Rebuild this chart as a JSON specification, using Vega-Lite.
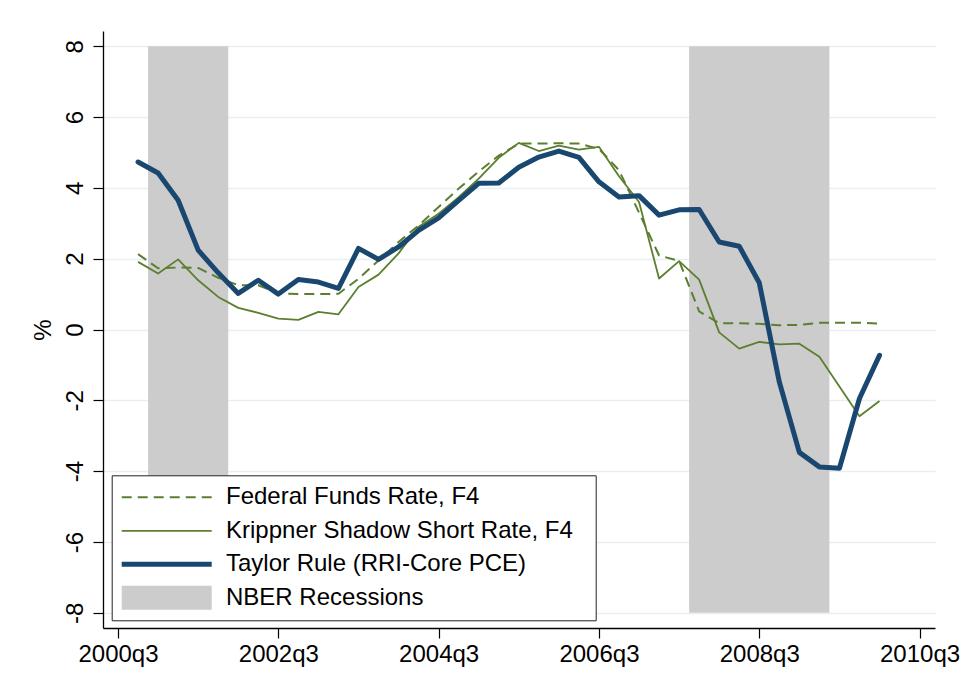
{
  "$schema": "https://vega.github.io/schema/vega-lite/v6.json",
  "width": 832,
  "height": 597,
  "autosize": "none",
  "padding": {"left": 103, "top": 31, "right": 29, "bottom": 68},
  "background": "white",
  "config": {
    "font": "Liberation Sans",
    "view": {"stroke": null},
    "axis": {
      "domainColor": "#000000",
      "domainWidth": 1.3,
      "tickColor": "#000000",
      "tickWidth": 1.2,
      "tickSize": 10,
      "labelColor": "#000000",
      "titleColor": "#000000",
      "labelFont": "Liberation Sans",
      "titleFont": "Liberation Sans",
      "labelFontSize": 24,
      "titleFontSize": 24,
      "titleFontWeight": "normal"
    }
  },
  "datasets": {
    "recessions": [
      {"name": "2001 recession", "start": 163.5, "end": 167.5},
      {"name": "2007-09 recession", "start": 190.5, "end": 197.5}
    ],
    "rates": [
      {"t": 163, "quarter": "2000q4", "series": "Federal Funds Rate, F4", "value": 2.13},
      {"t": 164, "quarter": "2001q1", "series": "Federal Funds Rate, F4", "value": 1.73},
      {"t": 165, "quarter": "2001q2", "series": "Federal Funds Rate, F4", "value": 1.75},
      {"t": 166, "quarter": "2001q3", "series": "Federal Funds Rate, F4", "value": 1.74},
      {"t": 167, "quarter": "2001q4", "series": "Federal Funds Rate, F4", "value": 1.46},
      {"t": 168, "quarter": "2002q1", "series": "Federal Funds Rate, F4", "value": 1.25},
      {"t": 169, "quarter": "2002q2", "series": "Federal Funds Rate, F4", "value": 1.25},
      {"t": 170, "quarter": "2002q3", "series": "Federal Funds Rate, F4", "value": 1.02},
      {"t": 171, "quarter": "2002q4", "series": "Federal Funds Rate, F4", "value": 1.0},
      {"t": 172, "quarter": "2003q1", "series": "Federal Funds Rate, F4", "value": 1.0},
      {"t": 173, "quarter": "2003q2", "series": "Federal Funds Rate, F4", "value": 1.01},
      {"t": 174, "quarter": "2003q3", "series": "Federal Funds Rate, F4", "value": 1.43},
      {"t": 175, "quarter": "2003q4", "series": "Federal Funds Rate, F4", "value": 1.95},
      {"t": 176, "quarter": "2004q1", "series": "Federal Funds Rate, F4", "value": 2.47},
      {"t": 177, "quarter": "2004q2", "series": "Federal Funds Rate, F4", "value": 2.94},
      {"t": 178, "quarter": "2004q3", "series": "Federal Funds Rate, F4", "value": 3.46},
      {"t": 179, "quarter": "2004q4", "series": "Federal Funds Rate, F4", "value": 3.98},
      {"t": 180, "quarter": "2005q1", "series": "Federal Funds Rate, F4", "value": 4.46},
      {"t": 181, "quarter": "2005q2", "series": "Federal Funds Rate, F4", "value": 4.91},
      {"t": 182, "quarter": "2005q3", "series": "Federal Funds Rate, F4", "value": 5.25},
      {"t": 183, "quarter": "2005q4", "series": "Federal Funds Rate, F4", "value": 5.25},
      {"t": 184, "quarter": "2006q1", "series": "Federal Funds Rate, F4", "value": 5.26},
      {"t": 185, "quarter": "2006q2", "series": "Federal Funds Rate, F4", "value": 5.25},
      {"t": 186, "quarter": "2006q3", "series": "Federal Funds Rate, F4", "value": 5.1},
      {"t": 187, "quarter": "2006q4", "series": "Federal Funds Rate, F4", "value": 4.5},
      {"t": 188, "quarter": "2007q1", "series": "Federal Funds Rate, F4", "value": 3.3},
      {"t": 189, "quarter": "2007q2", "series": "Federal Funds Rate, F4", "value": 2.09},
      {"t": 190, "quarter": "2007q3", "series": "Federal Funds Rate, F4", "value": 1.94},
      {"t": 191, "quarter": "2007q4", "series": "Federal Funds Rate, F4", "value": 0.51},
      {"t": 192, "quarter": "2008q1", "series": "Federal Funds Rate, F4", "value": 0.18},
      {"t": 193, "quarter": "2008q2", "series": "Federal Funds Rate, F4", "value": 0.18},
      {"t": 194, "quarter": "2008q3", "series": "Federal Funds Rate, F4", "value": 0.16},
      {"t": 195, "quarter": "2008q4", "series": "Federal Funds Rate, F4", "value": 0.12},
      {"t": 196, "quarter": "2009q1", "series": "Federal Funds Rate, F4", "value": 0.13},
      {"t": 197, "quarter": "2009q2", "series": "Federal Funds Rate, F4", "value": 0.19},
      {"t": 198, "quarter": "2009q3", "series": "Federal Funds Rate, F4", "value": 0.19},
      {"t": 199, "quarter": "2009q4", "series": "Federal Funds Rate, F4", "value": 0.19},
      {"t": 200, "quarter": "2010q1", "series": "Federal Funds Rate, F4", "value": 0.17},

      {"t": 163, "quarter": "2000q4", "series": "Krippner Shadow Short Rate, F4", "value": 1.91},
      {"t": 164, "quarter": "2001q1", "series": "Krippner Shadow Short Rate, F4", "value": 1.58},
      {"t": 165, "quarter": "2001q2", "series": "Krippner Shadow Short Rate, F4", "value": 1.98},
      {"t": 166, "quarter": "2001q3", "series": "Krippner Shadow Short Rate, F4", "value": 1.39},
      {"t": 167, "quarter": "2001q4", "series": "Krippner Shadow Short Rate, F4", "value": 0.92},
      {"t": 168, "quarter": "2002q1", "series": "Krippner Shadow Short Rate, F4", "value": 0.61},
      {"t": 169, "quarter": "2002q2", "series": "Krippner Shadow Short Rate, F4", "value": 0.47},
      {"t": 170, "quarter": "2002q3", "series": "Krippner Shadow Short Rate, F4", "value": 0.31},
      {"t": 171, "quarter": "2002q4", "series": "Krippner Shadow Short Rate, F4", "value": 0.27},
      {"t": 172, "quarter": "2003q1", "series": "Krippner Shadow Short Rate, F4", "value": 0.5},
      {"t": 173, "quarter": "2003q2", "series": "Krippner Shadow Short Rate, F4", "value": 0.43},
      {"t": 174, "quarter": "2003q3", "series": "Krippner Shadow Short Rate, F4", "value": 1.2},
      {"t": 175, "quarter": "2003q4", "series": "Krippner Shadow Short Rate, F4", "value": 1.55},
      {"t": 176, "quarter": "2004q1", "series": "Krippner Shadow Short Rate, F4", "value": 2.15},
      {"t": 177, "quarter": "2004q2", "series": "Krippner Shadow Short Rate, F4", "value": 2.9},
      {"t": 178, "quarter": "2004q3", "series": "Krippner Shadow Short Rate, F4", "value": 3.27},
      {"t": 179, "quarter": "2004q4", "series": "Krippner Shadow Short Rate, F4", "value": 3.74},
      {"t": 180, "quarter": "2005q1", "series": "Krippner Shadow Short Rate, F4", "value": 4.26},
      {"t": 181, "quarter": "2005q2", "series": "Krippner Shadow Short Rate, F4", "value": 4.85},
      {"t": 182, "quarter": "2005q3", "series": "Krippner Shadow Short Rate, F4", "value": 5.27},
      {"t": 183, "quarter": "2005q4", "series": "Krippner Shadow Short Rate, F4", "value": 5.04},
      {"t": 184, "quarter": "2006q1", "series": "Krippner Shadow Short Rate, F4", "value": 5.19},
      {"t": 185, "quarter": "2006q2", "series": "Krippner Shadow Short Rate, F4", "value": 5.08},
      {"t": 186, "quarter": "2006q3", "series": "Krippner Shadow Short Rate, F4", "value": 5.16},
      {"t": 187, "quarter": "2006q4", "series": "Krippner Shadow Short Rate, F4", "value": 4.33},
      {"t": 188, "quarter": "2007q1", "series": "Krippner Shadow Short Rate, F4", "value": 3.6},
      {"t": 189, "quarter": "2007q2", "series": "Krippner Shadow Short Rate, F4", "value": 1.44},
      {"t": 190, "quarter": "2007q3", "series": "Krippner Shadow Short Rate, F4", "value": 1.93},
      {"t": 191, "quarter": "2007q4", "series": "Krippner Shadow Short Rate, F4", "value": 1.41},
      {"t": 192, "quarter": "2008q1", "series": "Krippner Shadow Short Rate, F4", "value": -0.08},
      {"t": 193, "quarter": "2008q2", "series": "Krippner Shadow Short Rate, F4", "value": -0.54},
      {"t": 194, "quarter": "2008q3", "series": "Krippner Shadow Short Rate, F4", "value": -0.35},
      {"t": 195, "quarter": "2008q4", "series": "Krippner Shadow Short Rate, F4", "value": -0.42},
      {"t": 196, "quarter": "2009q1", "series": "Krippner Shadow Short Rate, F4", "value": -0.4},
      {"t": 197, "quarter": "2009q2", "series": "Krippner Shadow Short Rate, F4", "value": -0.77},
      {"t": 198, "quarter": "2009q3", "series": "Krippner Shadow Short Rate, F4", "value": -1.61},
      {"t": 199, "quarter": "2009q4", "series": "Krippner Shadow Short Rate, F4", "value": -2.45},
      {"t": 200, "quarter": "2010q1", "series": "Krippner Shadow Short Rate, F4", "value": -2.02},

      {"t": 163, "quarter": "2000q4", "series": "Taylor Rule (RRI-Core PCE)", "value": 4.73},
      {"t": 164, "quarter": "2001q1", "series": "Taylor Rule (RRI-Core PCE)", "value": 4.42},
      {"t": 165, "quarter": "2001q2", "series": "Taylor Rule (RRI-Core PCE)", "value": 3.65},
      {"t": 166, "quarter": "2001q3", "series": "Taylor Rule (RRI-Core PCE)", "value": 2.24},
      {"t": 167, "quarter": "2001q4", "series": "Taylor Rule (RRI-Core PCE)", "value": 1.6},
      {"t": 168, "quarter": "2002q1", "series": "Taylor Rule (RRI-Core PCE)", "value": 1.02},
      {"t": 169, "quarter": "2002q2", "series": "Taylor Rule (RRI-Core PCE)", "value": 1.39},
      {"t": 170, "quarter": "2002q3", "series": "Taylor Rule (RRI-Core PCE)", "value": 1.0},
      {"t": 171, "quarter": "2002q4", "series": "Taylor Rule (RRI-Core PCE)", "value": 1.41},
      {"t": 172, "quarter": "2003q1", "series": "Taylor Rule (RRI-Core PCE)", "value": 1.34},
      {"t": 173, "quarter": "2003q2", "series": "Taylor Rule (RRI-Core PCE)", "value": 1.16},
      {"t": 174, "quarter": "2003q3", "series": "Taylor Rule (RRI-Core PCE)", "value": 2.29},
      {"t": 175, "quarter": "2003q4", "series": "Taylor Rule (RRI-Core PCE)", "value": 1.98},
      {"t": 176, "quarter": "2004q1", "series": "Taylor Rule (RRI-Core PCE)", "value": 2.33},
      {"t": 177, "quarter": "2004q2", "series": "Taylor Rule (RRI-Core PCE)", "value": 2.8},
      {"t": 178, "quarter": "2004q3", "series": "Taylor Rule (RRI-Core PCE)", "value": 3.15},
      {"t": 179, "quarter": "2004q4", "series": "Taylor Rule (RRI-Core PCE)", "value": 3.65},
      {"t": 180, "quarter": "2005q1", "series": "Taylor Rule (RRI-Core PCE)", "value": 4.13},
      {"t": 181, "quarter": "2005q2", "series": "Taylor Rule (RRI-Core PCE)", "value": 4.14},
      {"t": 182, "quarter": "2005q3", "series": "Taylor Rule (RRI-Core PCE)", "value": 4.58},
      {"t": 183, "quarter": "2005q4", "series": "Taylor Rule (RRI-Core PCE)", "value": 4.87},
      {"t": 184, "quarter": "2006q1", "series": "Taylor Rule (RRI-Core PCE)", "value": 5.04},
      {"t": 185, "quarter": "2006q2", "series": "Taylor Rule (RRI-Core PCE)", "value": 4.86},
      {"t": 186, "quarter": "2006q3", "series": "Taylor Rule (RRI-Core PCE)", "value": 4.17},
      {"t": 187, "quarter": "2006q4", "series": "Taylor Rule (RRI-Core PCE)", "value": 3.74},
      {"t": 188, "quarter": "2007q1", "series": "Taylor Rule (RRI-Core PCE)", "value": 3.78},
      {"t": 189, "quarter": "2007q2", "series": "Taylor Rule (RRI-Core PCE)", "value": 3.23},
      {"t": 190, "quarter": "2007q3", "series": "Taylor Rule (RRI-Core PCE)", "value": 3.38},
      {"t": 191, "quarter": "2007q4", "series": "Taylor Rule (RRI-Core PCE)", "value": 3.39},
      {"t": 192, "quarter": "2008q1", "series": "Taylor Rule (RRI-Core PCE)", "value": 2.47},
      {"t": 193, "quarter": "2008q2", "series": "Taylor Rule (RRI-Core PCE)", "value": 2.35},
      {"t": 194, "quarter": "2008q3", "series": "Taylor Rule (RRI-Core PCE)", "value": 1.32},
      {"t": 195, "quarter": "2008q4", "series": "Taylor Rule (RRI-Core PCE)", "value": -1.48},
      {"t": 196, "quarter": "2009q1", "series": "Taylor Rule (RRI-Core PCE)", "value": -3.47},
      {"t": 197, "quarter": "2009q2", "series": "Taylor Rule (RRI-Core PCE)", "value": -3.88},
      {"t": 198, "quarter": "2009q3", "series": "Taylor Rule (RRI-Core PCE)", "value": -3.92},
      {"t": 199, "quarter": "2009q4", "series": "Taylor Rule (RRI-Core PCE)", "value": -1.95},
      {"t": 200, "quarter": "2010q1", "series": "Taylor Rule (RRI-Core PCE)", "value": -0.73}
    ]
  },
  "layer": [
    {
      "data": {"name": "recessions"},
      "mark": {"type": "rect", "color": "#cccccc"},
      "encoding": {
        "x": {
          "field": "start", "type": "quantitative",
          "scale": {"domain": [161.25, 202.77], "nice": false, "zero": false},
          "axis": {
            "title": null,
            "values": [162, 170, 178, 186, 194, 202],
            "labelExpr": "(floor(datum.value / 4) + 1960) + 'q' + (datum.value % 4 + 1)",
            "grid": false,
            "labelPadding": 4,
            "labelAngle": 0,
            "labelFlush": false,
            "labelOverlap": false
          }
        },
        "x2": {"field": "end"},
        "y": {
          "datum": 8, "type": "quantitative",
          "scale": {"domain": [-8.43, 8.43], "nice": false, "zero": false},
          "axis": {
            "title": "%",
            "values": [-8, -6, -4, -2, 0, 2, 4, 6, 8],
            "labelExpr": "'' + datum.value",
            "labelAngle": -90,
            "labelPadding": 6,
            "titlePadding": 8,
            "grid": true,
            "gridColor": "#e8eff2",
            "gridWidth": 1.6,
            "labelFlush": false,
            "labelOverlap": false
          }
        },
        "y2": {"datum": -8}
      }
    },
    {
      "data": {"name": "rates"},
      "transform": [{"filter": "datum.series === 'Federal Funds Rate, F4'"}],
      "mark": {"type": "line", "strokeWidth": 2, "strokeDash": [10, 6], "strokeJoin": "round"},
      "encoding": {
        "x": {"field": "t", "type": "quantitative", "scale": {"domain": [161.25, 202.77], "nice": false, "zero": false}},
        "y": {"field": "value", "type": "quantitative", "scale": {"domain": [-8.43, 8.43], "nice": false, "zero": false}},
        "color": {
          "field": "series", "type": "nominal",
          "scale": {
            "domain": ["Federal Funds Rate, F4", "Krippner Shadow Short Rate, F4", "Taylor Rule (RRI-Core PCE)", "NBER Recessions"],
            "range": ["#5b7f2f", "#5b7f2f", "#1a476f", "#cccccc"]
          },
          "legend": {
            "title": null,
            "orient": "none",
            "legendX": 8.7,
            "legendY": 444.3,
            "direction": "vertical",
            "padding": 10,
            "fillColor": "#ffffff",
            "strokeColor": "#222222",
            "symbolSize": 400,
            "symbolStrokeWidth": 0,
            "symbolOffset": 33,
            "labelOffset": 47.3,
            "rowPadding": 9.5,
            "labelFont": "Liberation Sans",
            "labelFontSize": 24,
            "labelColor": "#000000",
            "labelLimit": 600,
            "labelBaseline": "middle",
            "encode": {
              "symbols": {
                "update": {
                  "shape": [
                    {"test": "datum.value === 'Federal Funds Rate, F4'", "value": "M-4.5,-0.1H-3.5V0.1H-4.5Z M-2.9,-0.1H-1.9V0.1H-2.9Z M-1.3,-0.1H-0.3V0.1H-1.3Z M0.3,-0.1H1.3V0.1H0.3Z M1.9,-0.1H2.9V0.1H1.9Z M3.5,-0.1H4.5V0.1H3.5Z"},
                    {"test": "datum.value === 'Krippner Shadow Short Rate, F4'", "value": "M-4.5,-0.09H4.5V0.09H-4.5Z"},
                    {"test": "datum.value === 'Taylor Rule (RRI-Core PCE)'", "value": "M-4.5,-0.25H4.5V0.25H-4.5Z"},
                    {"value": "M-4.5,-1.2H4.5V1.2H-4.5Z M41.9,0Z"}
                  ],
                  "fill": {"scale": "color", "field": "value"},
                  "stroke": {"value": "transparent"},
                  "strokeWidth": {"value": 0},
                  "opacity": {"value": 1}
                }
              }
            }
          }
        }
      }
    },
    {
      "data": {"name": "rates"},
      "transform": [{"filter": "datum.series === 'Krippner Shadow Short Rate, F4'"}],
      "mark": {"type": "line", "strokeWidth": 1.8, "strokeJoin": "round"},
      "encoding": {
        "x": {"field": "t", "type": "quantitative", "scale": {"domain": [161.25, 202.77], "nice": false, "zero": false}},
        "y": {"field": "value", "type": "quantitative", "scale": {"domain": [-8.43, 8.43], "nice": false, "zero": false}},
        "color": {"field": "series", "type": "nominal"}
      }
    },
    {
      "data": {"name": "rates"},
      "transform": [{"filter": "datum.series === 'Taylor Rule (RRI-Core PCE)'"}],
      "mark": {"type": "line", "strokeWidth": 5, "strokeJoin": "round", "strokeCap": "round"},
      "encoding": {
        "x": {"field": "t", "type": "quantitative", "scale": {"domain": [161.25, 202.77], "nice": false, "zero": false}},
        "y": {"field": "value", "type": "quantitative", "scale": {"domain": [-8.43, 8.43], "nice": false, "zero": false}},
        "color": {"field": "series", "type": "nominal"}
      }
    }
  ]
}
